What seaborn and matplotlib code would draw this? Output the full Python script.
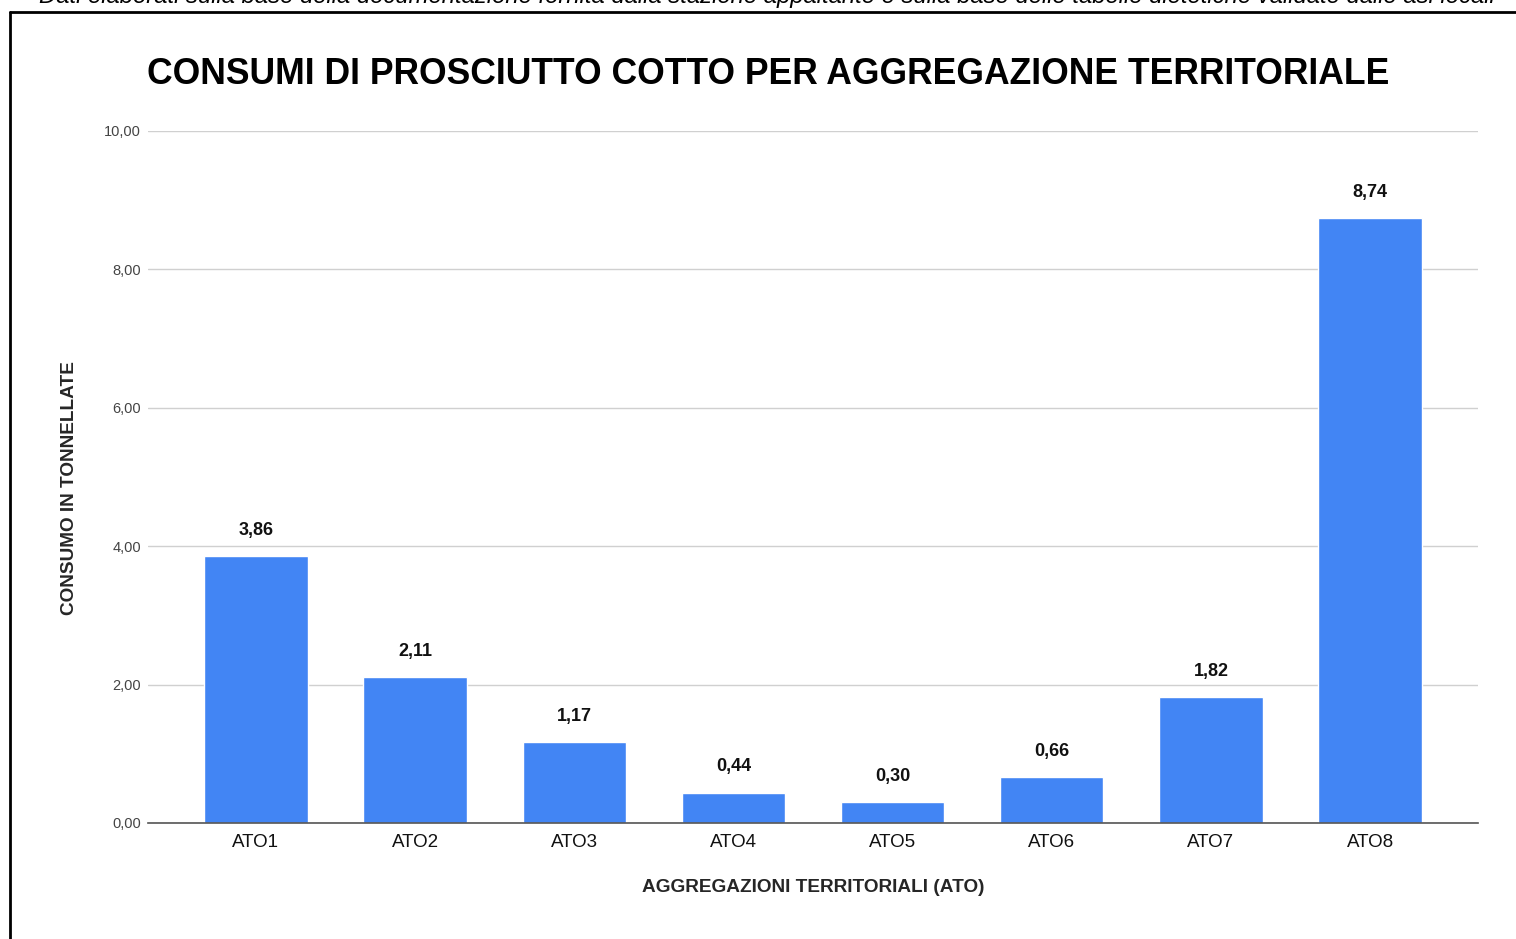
import matplotlib
matplotlib.use("Agg")
import matplotlib.pyplot as plt
import seaborn as sns
import pandas as pd
from matplotlib.lines import Line2D
from matplotlib.ticker import FuncFormatter

categories = ["ATO1", "ATO2", "ATO3", "ATO4", "ATO5", "ATO6", "ATO7", "ATO8"]
values = [3.86, 2.11, 1.17, 0.44, 0.30, 0.66, 1.82, 8.74]
yticks = [0, 2, 4, 6, 8, 10]

title = "CONSUMI DI PROSCIUTTO COTTO PER AGGREGAZIONE TERRITORIALE"
xlabel = "AGGREGAZIONI TERRITORIALI (ATO)"
ylabel = "CONSUMO IN TONNELLATE"
caption = ("Dati elaborati sulla base della documentazione fornita dalla stazione appaltante "
           "e sulla base delle tabelle dietetiche validate dalle asl locali")

sns.set_theme(style="white")
plt.rcParams["font.family"] = ["Liberation Sans", "DejaVu Sans"]

df = pd.DataFrame({"ato": categories, "val": values})

fig = plt.figure(figsize=(15.16, 9.39), dpi=100)
ax = fig.add_axes([148/1516, 1-823/939, (1478-148)/1516, (823-131)/939])

sns.barplot(data=df, x="ato", y="val", color="#4285F4", saturation=1,
            width=0.65, ax=ax, zorder=3)

ax.set_xlim(-0.678, 7.678)
ax.set_ylim(0, 10)
ax.set_yticks(yticks)
ax.yaxis.set_major_formatter(FuncFormatter(lambda v, p: f"{v:.2f}".replace(".", ",")))
ax.grid(axis="y", color="#d0d0d0", linewidth=1, zorder=0)
ax.grid(axis="x", visible=False)
for s in ["top", "right", "left"]:
    ax.spines[s].set_visible(False)
ax.spines["bottom"].set_color("#555555")
ax.spines["bottom"].set_linewidth(1.2)
ax.spines["bottom"].set_zorder(4)
ax.tick_params(axis="y", labelsize=10.5, colors="#444444", length=0, pad=5)
ax.tick_params(axis="x", labelsize=13.5, colors="#111111", length=0, pad=8)

ax.set_xlabel(xlabel, fontsize=13.7, fontweight="bold", labelpad=20)
ax.set_ylabel(ylabel, fontsize=13.7, fontweight="bold")
ax.yaxis.set_label_coords(-0.0526, 0.484)

for c in ax.containers:
    ax.bar_label(c, labels=[f"{v:.2f}".replace(".", ",") for v in values],
                 padding=12.5, fontsize=13, fontweight="bold", color="#111111")

fig.text(768/1516, 1-75/939, title, ha="center", va="center",
         fontsize=25.6, fontweight="bold", color="black")

fig.text(767/1516, 1-3.5/939, caption, ha="center", va="baseline",
         fontsize=17.2, style="italic", color="black")

# frame
fig.add_artist(Line2D([10/1516, 10/1516], [0, 1-12/939], color="black",
                      linewidth=2, transform=fig.transFigure))
fig.add_artist(Line2D([10/1516, 1], [1-12/939, 1-12/939], color="black",
                      linewidth=2, transform=fig.transFigure))

fig.savefig("out.png", dpi=100)
